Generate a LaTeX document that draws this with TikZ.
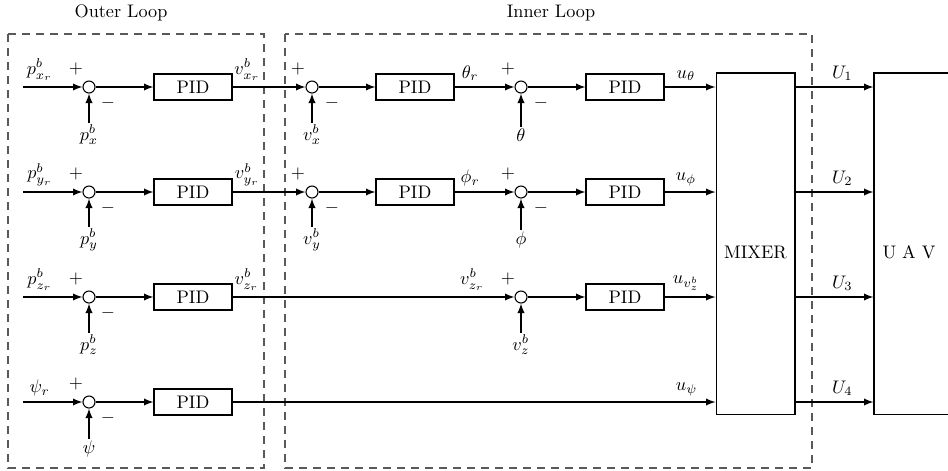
\documentclass[tikz,border=0pt]{standalone}
\usetikzlibrary{arrows}
\begin{document}
\begin{tikzpicture}[x=0.55pt,y=-0.55pt,>=latex,
  every node/.style={inner sep=1pt},
  pidbox/.style={draw,line width=0.6pt,minimum width=42.9pt,minimum height=14.3pt,inner sep=0pt},
  sumnode/.style={draw,circle,line width=0.6pt,minimum size=6.6pt,inner sep=0pt},
  bigbox/.style={draw,line width=0.6pt,minimum width=43.4pt,minimum height=187.6pt,inner sep=0pt},
  lab/.style={above=2pt},
  sig/.style={->,line width=0.8pt},
  frame/.style={dashed,gray!70!black,line width=0.6pt,dash pattern=on 4.4pt off 3.3pt}]
\useasboundingbox (0,0) rectangle (948,470);
\clip (0,0) rectangle (948,470);
% loop frames
\draw[frame] (8,34) rectangle (264,468);
\draw[frame] (285,34) rectangle (812,468);
\node (tout) at (121,13) {Outer Loop};
\node (tin) at (551,13) {Inner Loop};
% mixer and vehicle
\node[bigbox] (mix) at (755.5,243.5) {};
\node (mixlab) at (755.5,252) {MIXER};
\node[bigbox,minimum width=91.3pt] (uav) at (957,243.5) {};
\node (uavlab) at (909,252) {U A V};
% row 1: x
\coordinate (in1) at (23,87);
\node[sumnode] (s1a) at (89,87) {};
\node[pidbox] (p1a) at (193,87) {PID};
\node[sumnode] (s1b) at (312,87) {};
\node[pidbox] (p1b) at (415,87) {PID};
\node[sumnode] (s1c) at (521,87) {};
\node[pidbox] (p1c) at (625,87) {PID};
\node (f1a) at (89,135) {$p^b_x$};
\node (f1b) at (312,135) {$v^b_x$};
\node (f1c) at (521,135) {$\theta$};
\draw[sig] (in1) -- (s1a) node[pos=0.28,lab] {$p^b_{x_r}$};
\draw[sig] (s1a) -- (p1a);
\draw[sig] (p1a) -- (s1b) node[pos=0.2,lab] {$v^b_{x_r}$};
\draw[sig] (s1b) -- (p1b);
\draw[sig] (p1b) -- (s1c) node[pos=0.26,lab] {$\theta_r$};
\draw[sig] (s1c) -- (p1c);
\draw[sig] (p1c) -- (p1c -| mix.west) node[pos=0.42,lab] {$u_\theta$};
\draw[sig] (mix.east |- p1c) -- (uav.west |- p1c) node[pos=0.6,lab] {$U_1$};
\draw[sig] (f1a) -- (s1a);
\draw[sig] (f1b) -- (s1b);
\draw[sig] (f1c) -- (s1c);
\node (pl1a) at (76,69) {$+$};
\node (mi1a) at (108,103) {$-$};
\node (pl1b) at (298,69) {$+$};
\node (mi1b) at (332,103) {$-$};
\node (pl1c) at (508,69) {$+$};
\node (mi1c) at (541,103) {$-$};
% row 2: y
\coordinate (in2) at (23,192);
\node[sumnode] (s2a) at (89,192) {};
\node[pidbox] (p2a) at (193,192) {PID};
\node[sumnode] (s2b) at (312,192) {};
\node[pidbox] (p2b) at (415,192) {PID};
\node[sumnode] (s2c) at (521,192) {};
\node[pidbox] (p2c) at (625,192) {PID};
\node (f2a) at (89,240) {$p^b_y$};
\node (f2b) at (312,240) {$v^b_y$};
\node (f2c) at (521,240) {$\phi$};
\draw[sig] (in2) -- (s2a) node[pos=0.28,lab] {$p^b_{y_r}$};
\draw[sig] (s2a) -- (p2a);
\draw[sig] (p2a) -- (s2b) node[pos=0.2,lab] {$v^b_{y_r}$};
\draw[sig] (s2b) -- (p2b);
\draw[sig] (p2b) -- (s2c) node[pos=0.26,lab] {$\phi_r$};
\draw[sig] (s2c) -- (p2c);
\draw[sig] (p2c) -- (p2c -| mix.west) node[pos=0.42,lab] {$u_\phi$};
\draw[sig] (mix.east |- p2c) -- (uav.west |- p2c) node[pos=0.6,lab] {$U_2$};
\draw[sig] (f2a) -- (s2a);
\draw[sig] (f2b) -- (s2b);
\draw[sig] (f2c) -- (s2c);
\node (pl2a) at (76,174) {$+$};
\node (mi2a) at (108,208) {$-$};
\node (pl2b) at (298,174) {$+$};
\node (mi2b) at (332,208) {$-$};
\node (pl2c) at (508,174) {$+$};
\node (mi2c) at (541,208) {$-$};
% row 3: z
\coordinate (in3) at (23,297);
\node[sumnode] (s3a) at (89,297) {};
\node[pidbox] (p3a) at (193,297) {PID};
\node[sumnode] (s3c) at (521,297) {};
\node[pidbox] (p3c) at (625,297) {PID};
\node (f3a) at (89,345) {$p^b_z$};
\node (f3c) at (521,345) {$v^b_z$};
\draw[sig] (in3) -- (s3a) node[pos=0.28,lab] {$p^b_{z_r}$};
\draw[sig] (s3a) -- (p3a);
\draw[sig] (p3a) -- (s3c) node[pos=0.05,lab] {$v^b_{z_r}$} node[pos=0.85,lab] {$v^b_{z_r}$};
\draw[sig] (s3c) -- (p3c);
\draw[sig] (p3c) -- (p3c -| mix.west) node[pos=0.42,lab] {$u_{v^b_z}$};
\draw[sig] (mix.east |- p3c) -- (uav.west |- p3c) node[pos=0.6,lab] {$U_3$};
\draw[sig] (f3a) -- (s3a);
\draw[sig] (f3c) -- (s3c);
\node (pl3a) at (76,279) {$+$};
\node (mi3a) at (108,313) {$-$};
\node (pl3c) at (508,279) {$+$};
% row 4: yaw
\coordinate (in4) at (23,402);
\node[sumnode] (s4a) at (89,402) {};
\node[pidbox] (p4a) at (193,402) {PID};
\node (f4a) at (89,449) {$\psi$};
\draw[sig] (in4) -- (s4a) node[pos=0.28,lab] {$\psi_r$};
\draw[sig] (s4a) -- (p4a);
\draw[sig] (p4a) -- (p4a -| mix.west) node[pos=0.94,lab] {$u_\psi$};
\draw[sig] (mix.east |- p4a) -- (uav.west |- p4a) node[pos=0.6,lab] {$U_4$};
\draw[sig] (f4a) -- (s4a);
\node (pl4a) at (76,384) {$+$};
\node (mi4a) at (108,418) {$-$};
\end{tikzpicture}
\end{document}
